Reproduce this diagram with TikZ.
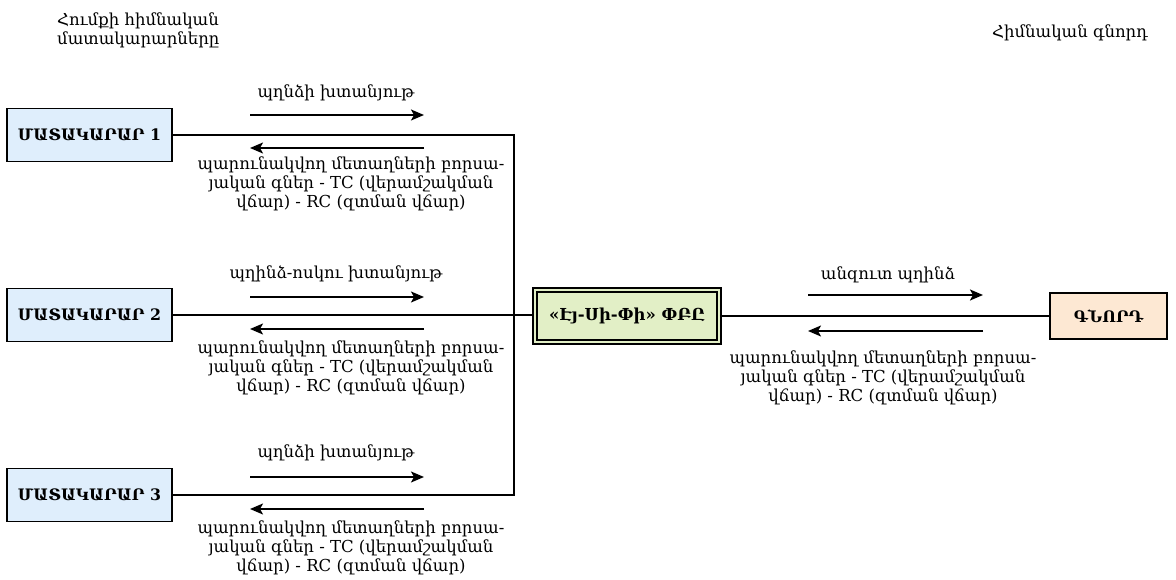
\documentclass[tikz,border=0pt]{standalone}
\usepackage{fontspec}
\setmainfont{DejaVu Serif}
\usetikzlibrary{arrows.meta}
\definecolor{supfill}{HTML}{DFEEFC}
\definecolor{midfill}{HTML}{E2EFC6}
\definecolor{buyfill}{HTML}{FDE8D3}
\tikzset{
  txt/.style={font=\fontsize{16.5}{19}\selectfont, inner sep=0pt, align=center},
  supbox/.style={draw=black, line width=1.8pt, fill=supfill, minimum width=165pt, minimum height=53pt, inner sep=0pt, font=\fontsize{15.8}{18}\selectfont\bfseries},
  midbox/.style={draw=black, line width=1.9pt, double=midfill, double distance=2.4pt, fill=midfill, minimum width=184pt, minimum height=52pt, inner sep=0pt, font=\fontsize{16.5}{18}\selectfont\bfseries},
  buybox/.style={draw=black, line width=1.8pt, fill=buyfill, minimum width=117pt, minimum height=46pt, inner sep=0pt, font=\fontsize{15.8}{18}\selectfont\bfseries},
  link/.style={draw=black, line width=1.7pt},
  flow/.style={draw=black, line width=1.8pt, -{Stealth[length=13pt,width=11pt,inset=3pt]}},
}
\begin{document}
\begin{tikzpicture}[x=1pt,y=-1pt]
\useasboundingbox (0,0) rectangle (1176,580);
% titles
\node[txt, align=left, anchor=west] (tl) at (57,30) {Հումքի հիմնական\\մատակարարները};
\node[txt, anchor=west] (tr) at (992,33) {Հիմնական գնորդ};
% boxes
\node[supbox] (s1) at (89.5,135) {ՄԱՏԱԿԱՐԱՐ 1};
\node[supbox] (s2) at (89.5,315) {ՄԱՏԱԿԱՐԱՐ 2};
\node[supbox] (s3) at (89.5,495) {ՄԱՏԱԿԱՐԱՐ 3};
\node[midbox] (m) at (627,316) {«Էյ-Սի-Փի» ՓԲԸ};
\node[buybox] (b) at (1108.5,316) {ԳՆՈՐԴ};
% connectors
\coordinate (vx) at (514,315);
\draw[link] (s1.east) -- (s1.east -| vx) -- (s3.east -| vx) -- (s3.east);
\draw[link] (s2.east) -- (s2.east -| m.west);
\draw[link] (m.east) -- (m.east -| b.west);
% row 1
\coordinate (r1a) at (250,115); \coordinate (r1b) at (424,115);
\coordinate (r1c) at (424,148); \coordinate (r1d) at (250,148);
\draw[flow] (r1a) -- (r1b);
\draw[flow] (r1c) -- (r1d);
\node[txt] (l1u) at (336,93) {պղնձի խտանյութ};
\node[txt] (l1d) at (351,184) {պարունակվող մետաղների բորսա-\\յական գներ - TC (վերամշակման\\վճար) - RC (զտման վճար)};
% row 2
\coordinate (r2a) at (250,297); \coordinate (r2b) at (424,297);
\coordinate (r2c) at (424,329); \coordinate (r2d) at (250,329);
\draw[flow] (r2a) -- (r2b);
\draw[flow] (r2c) -- (r2d);
\node[txt] (l2u) at (336,274) {պղինձ-ոսկու խտանյութ};
\node[txt] (l2d) at (351,368) {պարունակվող մետաղների բորսա-\\յական գներ - TC (վերամշակման\\վճար) - RC (զտման վճար)};
% row 3
\coordinate (r3a) at (250,477); \coordinate (r3b) at (424,477);
\coordinate (r3c) at (424,509); \coordinate (r3d) at (250,509);
\draw[flow] (r3a) -- (r3b);
\draw[flow] (r3c) -- (r3d);
\node[txt] (l3u) at (336,453) {պղնձի խտանյութ};
\node[txt] (l3d) at (351,548) {պարունակվող մետաղների բորսա-\\յական գներ - TC (վերամշակման\\վճար) - RC (զտման վճար)};
% right row
\coordinate (rra) at (808,295); \coordinate (rrb) at (983,295);
\coordinate (rrc) at (983,331); \coordinate (rrd) at (808,331);
\draw[flow] (rra) -- (rrb);
\draw[flow] (rrc) -- (rrd);
\node[txt] (lru) at (888,275) {անզուտ պղինձ};
\node[txt] (lrd) at (883,378) {պարունակվող մետաղների բորսա-\\յական գներ - TC (վերամշակման\\վճար) - RC (զտման վճար)};
\end{tikzpicture}
\end{document}
